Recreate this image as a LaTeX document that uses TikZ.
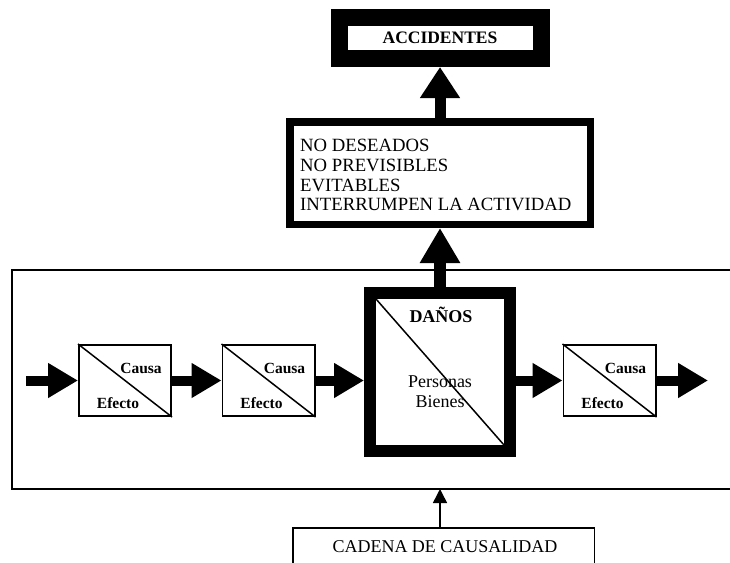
\documentclass[tikz,border=0pt]{standalone}
\usepackage{fontspec}
\setmainfont{Liberation Serif}
\usetikzlibrary{arrows.meta}
\tikzset{
  smallbox/.style={draw, line width=1.6pt, outer sep=0.8pt, inner sep=0pt, minimum width=92.4pt, minimum height=71.4pt},
  dbox/.style={draw, line width=12pt, outer sep=6pt, inner sep=0pt, minimum width=140pt, minimum height=158pt},
  midbox/.style={draw, line width=7.5pt, outer sep=3.75pt, inner sep=0pt, minimum width=300.5pt, minimum height=102.5pt},
  accbox/.style={draw, line width=17pt, outer sep=8.5pt, inner sep=0pt, minimum width=202pt, minimum height=41pt, font=\fontsize{17.5}{20}\selectfont\bfseries},
  cadbox/.style={draw, line width=1.5pt, outer sep=0.75pt, inner sep=0pt, minimum width=301.5pt, minimum height=80pt},
  diag/.style={line width=1.5pt},
  frameline/.style={line width=1.5pt},
  hbig/.style={line width=10pt, -{Triangle[length=30pt,width=33pt]}},
  vbig/.style={line width=12pt, -{Triangle[length=35pt,width=38pt]}},
  vbigup/.style={line width=11pt, -{Triangle[length=31pt,width=38pt]}},
  thinarrow/.style={line width=1.5pt, -{Triangle[length=14pt,width=14pt]}},
  smalltxt/.style={font=\fontsize{15.5}{18}\selectfont\bfseries, anchor=base, inner sep=0pt},
  bigtxt/.style={font=\fontsize{18.7}{20}\selectfont, anchor=base west, inner sep=0pt},
  dtxt/.style={font=\fontsize{18}{20}\selectfont, anchor=base, inner sep=0pt},
}
\begin{document}
\begin{tikzpicture}[x=1pt, y=-1pt]
\useasboundingbox (0,0) rectangle (730,562);

% frame of the causal chain
\coordinate (ftr) at (730,270);
\coordinate (ftl) at (12,270);
\coordinate (fbl) at (12,489);
\coordinate (fbr) at (730,489);
\coordinate (fb) at (440,489);
\draw[frameline] (ftr) -- (ftl) -- (fbl) -- (fbr);

% boxes
\node[accbox] (acc) at (440,38) {ACCIDENTES};
\node[midbox] (mid) at (440,173) {};
\node[bigtxt] (l1) at (300,151) {NO DESEADOS};
\node[bigtxt] (l2) at (300,171) {NO PREVISIBLES};
\node[bigtxt] (l3) at (300,191) {EVITABLES};
\node[bigtxt] (l4) at (300,210.5) {INTERRUMPEN LA ACTIVIDAD};

\node[smallbox] (b1) at (125,380.5) {};
\node[smallbox] (b2) at (268.5,380.5) {};
\node[dbox] (d) at (440,372) {};
\node[smallbox] (b4) at (609.5,380.5) {};

% diagonals
\foreach \b in {b1,b2,b4}{
  \draw[diag] (\b.north west) -- (\b.south east);
  \node[smalltxt] at ([shift={(16,-7.5)}]\b.center) {Causa};
  \node[smalltxt] at ([shift={(-7,27.5)}]\b.center) {Efecto};
}
\draw[diag] ([shift={(12,12)}]d.north west) -- ([shift={(-12,-12)}]d.south east);
\node[dtxt, font=\fontsize{18}{20}\selectfont\bfseries] (dn) at (441,322) {DAÑOS};
\node[dtxt] (dp) at (440,387) {Personas};
\node[dtxt] (db) at (440,407) {Bienes};

% horizontal arrows
\coordinate (c0) at (26,380.5);
\coordinate (c5) at (708,380.5);
\draw[hbig] (c0) -- (b1.west);
\draw[hbig] (b1.east) -- (b2.west);
\draw[hbig] (b2.east) -- (b2.east -| d.west);
\draw[hbig] (b4.west -| d.east) -- (b4.west);
\draw[hbig] (b4.east) -- (c5);

% vertical arrows
\draw[vbig] (d.north) -- (mid.south);
\draw[vbigup] (mid.north) -- (acc.south);

% cadena
\node[cadbox] (cad) at (443.5,567.75) {};
\node[dtxt] (cadt) at (445,552) {CADENA DE CAUSALIDAD};
\draw[thinarrow] (cad.north -| fb) -- (fb);
\end{tikzpicture}
\end{document}
